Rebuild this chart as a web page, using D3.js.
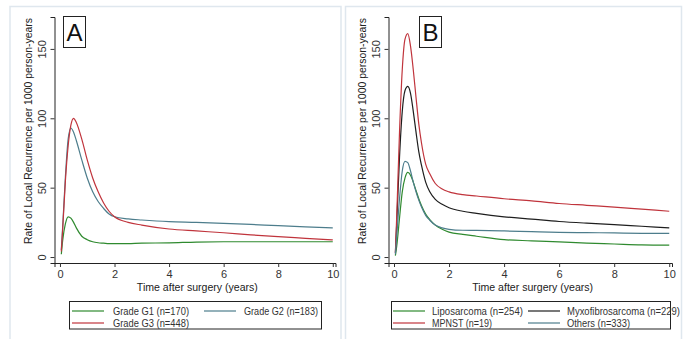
<!DOCTYPE html>
<html><head><meta charset="utf-8">
<script src="https://cdn.jsdelivr.net/npm/d3@7"></script>
<style>body{margin:0;background:#fff}svg{display:block;font-family:"Liberation Sans",Arial,sans-serif}</style>
</head><body><svg id="c" width="687" height="339"></svg>
<script>
// ---- data ----
const xTicks = [0, 2, 4, 6, 8, 10];
const yTicks = [0, 50, 100, 150];
const tA = [0.05,0.1,0.2,0.3,0.4,0.5,0.6,0.8,1.0,1.2,1.4,1.6,1.8,2.0,2.5,3,4,5,6,7,8,9,10];
const g1 = [2,12,24,29,28,25,21,15,12.5,11,10.3,10,9.7,9.6,9.7,10,10.2,10.8,11,11,11,11,11];
const g2 = [5,22,58,85,93,90,84,70,57,47,40,35,31,29,27.5,26.7,25.5,25,24.3,23.5,22.6,21.8,21];
const g3 = [4,20,55,80,95,100,97,85,70,57,47,39,33,29,25,23,20.2,18.8,17.5,16,14.7,13.5,12.3];
const tB = [0.05,0.1,0.2,0.3,0.4,0.5,0.6,0.7,0.8,0.9,1.0,1.15,1.3,1.5,1.75,2,2.5,3,4,5,6,7,8,9,10];
const lipo  = [1,8,28,47,57,61,59,54,48,42,37,31,27,23,20,18,16.3,15,12.5,11.7,10.9,10,9.4,8.8,8.6];
const myxo  = [3,25,72,105,120,123,118,105,90,76,66,54,47,41.5,38,35.5,33,31.5,29,27.3,25.6,24.4,23.4,22.2,21];
const mpnst = [3,30,90,135,157,161,152,135,115,96,82,67,60,53,49,47,45,44,42,40.5,38.6,37.3,36,34.5,33];
const others= [2,15,42,62,69,68,62,54,47,41,36,30,26.5,23,21,20,19.3,19.2,18.8,18.3,17.8,17.6,17.4,17.1,17];
const legendA = ["Grade G1 (n=170)", "Grade G2 (n=183)", "Grade G3 (n=448)"];
const legendB = ["Liposarcoma (n=254)", "Myxofibrosarcoma (n=229)", "MPNST (n=19)", "Others (n=333)"];
const GREEN = "#2f8a2f", TEAL = "#4d7d8c", RED = "#c0343c", BLACK = "#1e1e1e";

const svg = d3.select("#c");

// fix a text's width to the reference width, keeping a taller glyph size
function fit(sel, target) {
  sel.attr("textLength", target).attr("lengthAdjust", "spacingAndGlyphs");
}

function panel(o) {
  const g = svg.append("g");
  g.append("rect").attr("x", o.fx).attr("y", 6.5).attr("width", o.fw).attr("height", 340)
    .attr("fill", "none").attr("stroke", "#dfe7ee").attr("stroke-width", 1.5);
  const x = d3.scaleLinear().domain([-0.2, 10.1]).range([o.x0, o.x1]);
  const y = d3.scaleLinear().domain([-4.3, 173]).range([263, 17]);
  const xa = g.append("g").attr("transform", "translate(0,263)")
    .call(d3.axisBottom(x).tickValues(xTicks).tickSize(4).tickPadding(3).tickFormat(d3.format("d")));
  xa.select(".domain").attr("stroke", "#222");
  xa.selectAll("text").attr("font-size", 11).attr("fill", "#333").attr("font-family", "Liberation Sans, Arial");
  xa.selectAll("line").attr("stroke", "#333");
  const ya = g.append("g").attr("transform", `translate(${o.x0},0)`)
    .call(d3.axisLeft(y).tickValues(yTicks).tickSize(4).tickFormat(d3.format("d")));
  ya.select(".domain").attr("stroke", "#222");
  ya.selectAll("line").attr("stroke", "#333");
  ya.selectAll("text").attr("font-size", 11).attr("fill", "#333").attr("font-family", "Liberation Sans, Arial")
    .attr("text-anchor", "middle").attr("x", 0).attr("dy", 0)
    .attr("transform", "translate(-9,0) rotate(-90)");
  const xt = g.append("text").attr("x", (x(0) + x(10)) / 2 + 1).attr("y", 291).attr("text-anchor", "middle")
    .attr("font-size", 11.5).attr("fill", "#222").text("Time after surgery (years)");
  fit(xt, 121);
  const yt = g.append("text").attr("transform", `translate(${o.x0 - 23},${(17 + 245) / 2}) rotate(-90)`)
    .attr("text-anchor", "middle").attr("font-size", 11).attr("fill", "#222")
    .text("Rate of Local Recurrence per 1000 person-years");
  fit(yt, 226);
  g.append("rect").attr("x", o.lx).attr("y", 16.5).attr("width", 22).attr("height", 31)
    .attr("fill", "#fff").attr("stroke", "#222").attr("stroke-width", 1);
  g.append("text").attr("x", o.lx + 11).attr("y", 41).attr("text-anchor", "middle")
    .attr("font-size", 24).attr("fill", "#111").text(o.letter);
  const line = d3.line().x(d => x(d[0])).y(d => y(d[1])).curve(d3.curveMonotoneX);
  o.series.forEach(s => {
    g.append("path").datum(o.t.map((t, i) => [t, s.v[i]])).attr("d", line)
      .attr("fill", "none").attr("stroke", s.c).attr("stroke-width", 1.2);
  });
  g.append("rect").attr("x", o.bx).attr("y", 301.5).attr("width", o.bw).attr("height", 27.5)
    .attr("fill", "#fff").attr("stroke", "#222").attr("stroke-width", 1);
  o.leg.forEach(l => {
    g.append("line").attr("x1", l.x).attr("x2", l.x + 32).attr("y1", l.y - 4).attr("y2", l.y - 4)
      .attr("stroke", l.c).attr("stroke-width", 1.2);
    const t = g.append("text").attr("x", l.tx).attr("y", l.y).attr("font-size", 11).attr("fill", "#333").text(l.t);
    fit(t, l.w);
  });
}

panel({
  fx: 10, fw: 331, x0: 54.5, x1: 335.5, lx: 63.5, letter: "A", t: tA,
  series: [{v: g1, c: GREEN}, {v: g2, c: TEAL}, {v: g3, c: RED}],
  bx: 69.5, bw: 252,
  leg: [{x: 72, tx: 113, y: 315, w: 76, c: GREEN, t: legendA[0]},
        {x: 204, tx: 244, y: 315, w: 74, c: TEAL, t: legendA[1]},
        {x: 72, tx: 113, y: 327, w: 76, c: RED, t: legendA[2]}]
});
panel({
  fx: 345.5, fw: 336, x0: 388.5, x1: 672, lx: 419.5, letter: "B", t: tB,
  series: [{v: lipo, c: GREEN}, {v: myxo, c: BLACK}, {v: mpnst, c: RED}, {v: others, c: TEAL}],
  bx: 391.5, bw: 279,
  leg: [{x: 393, tx: 432, y: 315, w: 91, c: GREEN, t: legendB[0]},
        {x: 528, tx: 567, y: 315, w: 113, c: BLACK, t: legendB[1]},
        {x: 393, tx: 432, y: 327, w: 60, c: RED, t: legendB[2]},
        {x: 528, tx: 567, y: 327, w: 63, c: TEAL, t: legendB[3]}]
});
</script></body></html>
